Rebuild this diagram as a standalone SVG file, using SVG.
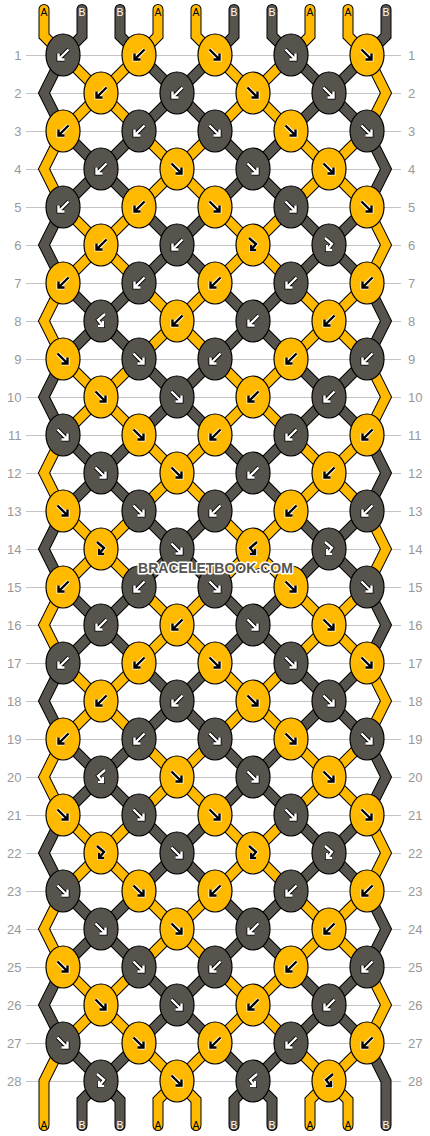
<svg xmlns="http://www.w3.org/2000/svg" width="430" height="1136" viewBox="0 0 430 1136">
<style>
text{font-family:"Liberation Sans",Arial,sans-serif}
.n{font-size:13px;fill:#999}
.nl{text-anchor:end}
.lb{font-size:10.5px;text-anchor:middle}
.o{fill:none;stroke:#000;stroke-width:11;stroke-linecap:round;stroke-linejoin:miter}
.cy{fill:none;stroke:#FFBA00;stroke-width:9;stroke-linecap:round;stroke-linejoin:miter}
.cd{fill:none;stroke:#57544E;stroke-width:9;stroke-linecap:round;stroke-linejoin:miter}
ellipse{stroke:#000;stroke-width:1.2}
.y ellipse{fill:#FFBA00}
.d ellipse{fill:#57544E}
.y use{color:#000;stroke:#fff}
.d use{color:#fff;stroke:#000}
</style>
<defs>
<path id="s1" d="M63 55l38 38M139 55l-38 38M215 55l38 38M291 55l-38 38M367 55l19 38l-19 38M101 93l-38 38M101 93l38 38M253 93l-38 38M253 93l38 38"/>
<path id="s2" d="M139 55l38 38M215 55l-38 38M291 55l38 38M367 55l-38 38M63 55l-19 38l19 38M177 93l-38 38M177 93l38 38M329 93l-38 38M329 93l38 38"/>
<g id="s12"><use href="#s1"/><use href="#s2"/></g>
<path id="ey" d="M139 1043l38 38M215 1043l-38 38M291 1043l38 38M367 1043l-38 38M63 1043L44 1081V1125.5M177 1081L158 1100V1125.5M177 1081L196 1100V1125.5M329 1081L310 1100V1125.5M329 1081L348 1100V1125.5M44 9.5V36L63 55M158 9.5V36L139 55M196 9.5V36L215 55M310 9.5V36L291 55M348 9.5V36L367 55"/>
<path id="ed" d="M63 1043l38 38M139 1043l-38 38M215 1043l38 38M291 1043l-38 38M367 1043L386 1081V1125.5M101 1081L82 1100V1125.5M101 1081L120 1100V1125.5M253 1081L234 1100V1125.5M253 1081L272 1100V1125.5M82 9.5V36L63 55M120 9.5V36L139 55M234 9.5V36L215 55M272 9.5V36L291 55M386 9.5V36L367 55"/>
<g id="b" fill="none"><path d="M5.5-5.5L-4.5 4.5M-4.5-1.5V4.5H1.5" stroke-width="4"/><path d="M5.5-5.5L-4.5 4.5M-4.5-1.5V4.5H1.5" stroke="currentColor" stroke-width="2.4"/></g>
<g id="f" fill="none"><path d="M-5.5-5.5L4.5 4.5M4.5-1.5V4.5H-1.5" stroke-width="4"/><path d="M-5.5-5.5L4.5 4.5M4.5-1.5V4.5H-1.5" stroke="currentColor" stroke-width="2.4"/></g>
<g id="fb" fill="none"><path d="M-4-7L3-1L-2 5M-2 0V5H3" stroke-width="4"/><path d="M-4-7L3-1L-2 5M-2 0V5H3" stroke="currentColor" stroke-width="2.4"/></g>
<g id="bf" fill="none"><path d="M4-7L-3-1L2 5M2 0V5H-3" stroke-width="4"/><path d="M4-7L-3-1L2 5M2 0V5H-3" stroke="currentColor" stroke-width="2.4"/></g>
</defs>
<rect width="430" height="1136" fill="#fff"/>
<g id="grid">
<path d="M26 55.5H401M26 93.5H401M26 131.5H401M26 169.5H401M26 207.5H401M26 245.5H401M26 283.5H401M26 321.5H401M26 359.5H401M26 397.5H401M26 435.5H401M26 473.5H401M26 511.5H401M26 549.5H401M26 587.5H401M26 625.5H401M26 663.5H401M26 701.5H401M26 739.5H401M26 777.5H401M26 815.5H401M26 853.5H401M26 891.5H401M26 929.5H401M26 967.5H401M26 1005.5H401M26 1043.5H401M26 1081.5H401" stroke="#c4c4c4" stroke-width="1" fill="none"/>
<g class="n nl">
<text x="21.5" y="59.5">1</text><text x="21.5" y="97.5">2</text><text x="21.5" y="135.5">3</text><text x="21.5" y="173.5">4</text><text x="21.5" y="211.5">5</text><text x="21.5" y="249.5">6</text><text x="21.5" y="287.5">7</text><text x="21.5" y="325.5">8</text><text x="21.5" y="363.5">9</text><text x="21.5" y="401.5">10</text><text x="21.5" y="439.5">11</text><text x="21.5" y="477.5">12</text><text x="21.5" y="515.5">13</text><text x="21.5" y="553.5">14</text><text x="21.5" y="591.5">15</text><text x="21.5" y="629.5">16</text><text x="21.5" y="667.5">17</text><text x="21.5" y="705.5">18</text><text x="21.5" y="743.5">19</text><text x="21.5" y="781.5">20</text><text x="21.5" y="819.5">21</text><text x="21.5" y="857.5">22</text><text x="21.5" y="895.5">23</text><text x="21.5" y="933.5">24</text><text x="21.5" y="971.5">25</text><text x="21.5" y="1009.5">26</text><text x="21.5" y="1047.5">27</text><text x="21.5" y="1085.5">28</text>
</g>
<g class="n">
<text x="408" y="59.5">1</text><text x="408" y="97.5">2</text><text x="408" y="135.5">3</text><text x="408" y="173.5">4</text><text x="408" y="211.5">5</text><text x="408" y="249.5">6</text><text x="408" y="287.5">7</text><text x="408" y="325.5">8</text><text x="408" y="363.5">9</text><text x="408" y="401.5">10</text><text x="408" y="439.5">11</text><text x="408" y="477.5">12</text><text x="408" y="515.5">13</text><text x="408" y="553.5">14</text><text x="408" y="591.5">15</text><text x="408" y="629.5">16</text><text x="408" y="667.5">17</text><text x="408" y="705.5">18</text><text x="408" y="743.5">19</text><text x="408" y="781.5">20</text><text x="408" y="819.5">21</text><text x="408" y="857.5">22</text><text x="408" y="895.5">23</text><text x="408" y="933.5">24</text><text x="408" y="971.5">25</text><text x="408" y="1009.5">26</text><text x="408" y="1047.5">27</text><text x="408" y="1085.5">28</text>
</g>
</g>
<g id="connectors">
<use href="#s12" class="o"/>
<use href="#s12" class="o" transform="translate(0 76)"/>
<use href="#s12" class="o" transform="translate(0 152)"/>
<use href="#s12" class="o" transform="translate(0 228)"/>
<use href="#s12" class="o" transform="translate(0 304)"/>
<use href="#s12" class="o" transform="translate(0 380)"/>
<use href="#s12" class="o" transform="translate(0 456)"/>
<use href="#s12" class="o" transform="translate(0 532)"/>
<use href="#s12" class="o" transform="translate(0 608)"/>
<use href="#s12" class="o" transform="translate(0 684)"/>
<use href="#s12" class="o" transform="translate(0 760)"/>
<use href="#s12" class="o" transform="translate(0 836)"/>
<use href="#s12" class="o" transform="translate(0 912)"/>
<use href="#ey" class="o"/>
<use href="#ed" class="o"/>
<use href="#s1" class="cy"/><use href="#s2" class="cd"/>
<use href="#s1" class="cd" transform="translate(0 76)"/><use href="#s2" class="cy" transform="translate(0 76)"/>
<use href="#s1" class="cy" transform="translate(0 152)"/><use href="#s2" class="cd" transform="translate(0 152)"/>
<use href="#s1" class="cd" transform="translate(0 228)"/><use href="#s2" class="cy" transform="translate(0 228)"/>
<use href="#s1" class="cy" transform="translate(0 304)"/><use href="#s2" class="cd" transform="translate(0 304)"/>
<use href="#s1" class="cd" transform="translate(0 380)"/><use href="#s2" class="cy" transform="translate(0 380)"/>
<use href="#s1" class="cy" transform="translate(0 456)"/><use href="#s2" class="cd" transform="translate(0 456)"/>
<use href="#s1" class="cd" transform="translate(0 532)"/><use href="#s2" class="cy" transform="translate(0 532)"/>
<use href="#s1" class="cy" transform="translate(0 608)"/><use href="#s2" class="cd" transform="translate(0 608)"/>
<use href="#s1" class="cd" transform="translate(0 684)"/><use href="#s2" class="cy" transform="translate(0 684)"/>
<use href="#s1" class="cy" transform="translate(0 760)"/><use href="#s2" class="cd" transform="translate(0 760)"/>
<use href="#s1" class="cd" transform="translate(0 836)"/><use href="#s2" class="cy" transform="translate(0 836)"/>
<use href="#s1" class="cy" transform="translate(0 912)"/><use href="#s2" class="cd" transform="translate(0 912)"/>
<use href="#ey" class="cy"/>
<use href="#ed" class="cd"/>
</g>
<g id="labels" class="lb">
<text x="44" y="16" fill="#000">A</text><text x="82" y="16" fill="#fff">B</text><text x="120" y="16" fill="#fff">B</text><text x="158" y="16" fill="#000">A</text><text x="196" y="16" fill="#000">A</text><text x="234" y="16" fill="#fff">B</text><text x="272" y="16" fill="#fff">B</text><text x="310" y="16" fill="#000">A</text><text x="348" y="16" fill="#000">A</text><text x="386" y="16" fill="#fff">B</text>
<text x="44" y="1129" fill="#000">A</text><text x="82" y="1129" fill="#fff">B</text><text x="120" y="1129" fill="#fff">B</text><text x="158" y="1129" fill="#000">A</text><text x="196" y="1129" fill="#000">A</text><text x="234" y="1129" fill="#fff">B</text><text x="272" y="1129" fill="#fff">B</text><text x="310" y="1129" fill="#000">A</text><text x="348" y="1129" fill="#000">A</text><text x="386" y="1129" fill="#fff">B</text>
</g>
<g id="knots">
<g id="k1-1" class="d" transform="translate(63 55)"><ellipse rx="17" ry="21"/><use href="#b"/></g>
<g id="k1-2" class="y" transform="translate(139 55)"><ellipse rx="17" ry="21"/><use href="#b"/></g>
<g id="k1-3" class="y" transform="translate(215 55)"><ellipse rx="17" ry="21"/><use href="#f"/></g>
<g id="k1-4" class="d" transform="translate(291 55)"><ellipse rx="17" ry="21"/><use href="#f"/></g>
<g id="k1-5" class="y" transform="translate(367 55)"><ellipse rx="17" ry="21"/><use href="#f"/></g>
<g id="k2-1" class="y" transform="translate(101 93)"><ellipse rx="17" ry="21"/><use href="#b"/></g>
<g id="k2-2" class="d" transform="translate(177 93)"><ellipse rx="17" ry="21"/><use href="#b"/></g>
<g id="k2-3" class="y" transform="translate(253 93)"><ellipse rx="17" ry="21"/><use href="#f"/></g>
<g id="k2-4" class="d" transform="translate(329 93)"><ellipse rx="17" ry="21"/><use href="#f"/></g>
<g id="k3-1" class="y" transform="translate(63 131)"><ellipse rx="17" ry="21"/><use href="#b"/></g>
<g id="k3-2" class="d" transform="translate(139 131)"><ellipse rx="17" ry="21"/><use href="#b"/></g>
<g id="k3-3" class="d" transform="translate(215 131)"><ellipse rx="17" ry="21"/><use href="#f"/></g>
<g id="k3-4" class="y" transform="translate(291 131)"><ellipse rx="17" ry="21"/><use href="#f"/></g>
<g id="k3-5" class="d" transform="translate(367 131)"><ellipse rx="17" ry="21"/><use href="#f"/></g>
<g id="k4-1" class="d" transform="translate(101 169)"><ellipse rx="17" ry="21"/><use href="#b"/></g>
<g id="k4-2" class="y" transform="translate(177 169)"><ellipse rx="17" ry="21"/><use href="#f"/></g>
<g id="k4-3" class="d" transform="translate(253 169)"><ellipse rx="17" ry="21"/><use href="#f"/></g>
<g id="k4-4" class="y" transform="translate(329 169)"><ellipse rx="17" ry="21"/><use href="#f"/></g>
<g id="k5-1" class="d" transform="translate(63 207)"><ellipse rx="17" ry="21"/><use href="#b"/></g>
<g id="k5-2" class="y" transform="translate(139 207)"><ellipse rx="17" ry="21"/><use href="#b"/></g>
<g id="k5-3" class="y" transform="translate(215 207)"><ellipse rx="17" ry="21"/><use href="#f"/></g>
<g id="k5-4" class="d" transform="translate(291 207)"><ellipse rx="17" ry="21"/><use href="#f"/></g>
<g id="k5-5" class="y" transform="translate(367 207)"><ellipse rx="17" ry="21"/><use href="#f"/></g>
<g id="k6-1" class="y" transform="translate(101 245)"><ellipse rx="17" ry="21"/><use href="#b"/></g>
<g id="k6-2" class="d" transform="translate(177 245)"><ellipse rx="17" ry="21"/><use href="#b"/></g>
<g id="k6-3" class="y" transform="translate(253 245)"><ellipse rx="17" ry="21"/><use href="#fb"/></g>
<g id="k6-4" class="d" transform="translate(329 245)"><ellipse rx="17" ry="21"/><use href="#fb"/></g>
<g id="k7-1" class="y" transform="translate(63 283)"><ellipse rx="17" ry="21"/><use href="#b"/></g>
<g id="k7-2" class="d" transform="translate(139 283)"><ellipse rx="17" ry="21"/><use href="#b"/></g>
<g id="k7-3" class="y" transform="translate(215 283)"><ellipse rx="17" ry="21"/><use href="#b"/></g>
<g id="k7-4" class="d" transform="translate(291 283)"><ellipse rx="17" ry="21"/><use href="#b"/></g>
<g id="k7-5" class="y" transform="translate(367 283)"><ellipse rx="17" ry="21"/><use href="#b"/></g>
<g id="k8-1" class="d" transform="translate(101 321)"><ellipse rx="17" ry="21"/><use href="#bf"/></g>
<g id="k8-2" class="y" transform="translate(177 321)"><ellipse rx="17" ry="21"/><use href="#b"/></g>
<g id="k8-3" class="d" transform="translate(253 321)"><ellipse rx="17" ry="21"/><use href="#b"/></g>
<g id="k8-4" class="y" transform="translate(329 321)"><ellipse rx="17" ry="21"/><use href="#b"/></g>
<g id="k9-1" class="y" transform="translate(63 359)"><ellipse rx="17" ry="21"/><use href="#f"/></g>
<g id="k9-2" class="d" transform="translate(139 359)"><ellipse rx="17" ry="21"/><use href="#f"/></g>
<g id="k9-3" class="d" transform="translate(215 359)"><ellipse rx="17" ry="21"/><use href="#b"/></g>
<g id="k9-4" class="y" transform="translate(291 359)"><ellipse rx="17" ry="21"/><use href="#b"/></g>
<g id="k9-5" class="d" transform="translate(367 359)"><ellipse rx="17" ry="21"/><use href="#b"/></g>
<g id="k10-1" class="y" transform="translate(101 397)"><ellipse rx="17" ry="21"/><use href="#f"/></g>
<g id="k10-2" class="d" transform="translate(177 397)"><ellipse rx="17" ry="21"/><use href="#f"/></g>
<g id="k10-3" class="y" transform="translate(253 397)"><ellipse rx="17" ry="21"/><use href="#b"/></g>
<g id="k10-4" class="d" transform="translate(329 397)"><ellipse rx="17" ry="21"/><use href="#b"/></g>
<g id="k11-1" class="d" transform="translate(63 435)"><ellipse rx="17" ry="21"/><use href="#f"/></g>
<g id="k11-2" class="y" transform="translate(139 435)"><ellipse rx="17" ry="21"/><use href="#f"/></g>
<g id="k11-3" class="y" transform="translate(215 435)"><ellipse rx="17" ry="21"/><use href="#b"/></g>
<g id="k11-4" class="d" transform="translate(291 435)"><ellipse rx="17" ry="21"/><use href="#b"/></g>
<g id="k11-5" class="y" transform="translate(367 435)"><ellipse rx="17" ry="21"/><use href="#b"/></g>
<g id="k12-1" class="d" transform="translate(101 473)"><ellipse rx="17" ry="21"/><use href="#f"/></g>
<g id="k12-2" class="y" transform="translate(177 473)"><ellipse rx="17" ry="21"/><use href="#f"/></g>
<g id="k12-3" class="d" transform="translate(253 473)"><ellipse rx="17" ry="21"/><use href="#b"/></g>
<g id="k12-4" class="y" transform="translate(329 473)"><ellipse rx="17" ry="21"/><use href="#b"/></g>
<g id="k13-1" class="y" transform="translate(63 511)"><ellipse rx="17" ry="21"/><use href="#f"/></g>
<g id="k13-2" class="d" transform="translate(139 511)"><ellipse rx="17" ry="21"/><use href="#f"/></g>
<g id="k13-3" class="d" transform="translate(215 511)"><ellipse rx="17" ry="21"/><use href="#b"/></g>
<g id="k13-4" class="y" transform="translate(291 511)"><ellipse rx="17" ry="21"/><use href="#b"/></g>
<g id="k13-5" class="d" transform="translate(367 511)"><ellipse rx="17" ry="21"/><use href="#b"/></g>
<g id="k14-1" class="y" transform="translate(101 549)"><ellipse rx="17" ry="21"/><use href="#fb"/></g>
<g id="k14-2" class="d" transform="translate(177 549)"><ellipse rx="17" ry="21"/><use href="#f"/></g>
<g id="k14-3" class="y" transform="translate(253 549)"><ellipse rx="17" ry="21"/><use href="#bf"/></g>
<g id="k14-4" class="d" transform="translate(329 549)"><ellipse rx="17" ry="21"/><use href="#fb"/></g>
<g id="k15-1" class="y" transform="translate(63 587)"><ellipse rx="17" ry="21"/><use href="#b"/></g>
<g id="k15-2" class="d" transform="translate(139 587)"><ellipse rx="17" ry="21"/><use href="#b"/></g>
<g id="k15-3" class="d" transform="translate(215 587)"><ellipse rx="17" ry="21"/><use href="#f"/></g>
<g id="k15-4" class="y" transform="translate(291 587)"><ellipse rx="17" ry="21"/><use href="#f"/></g>
<g id="k15-5" class="d" transform="translate(367 587)"><ellipse rx="17" ry="21"/><use href="#f"/></g>
<g id="k16-1" class="d" transform="translate(101 625)"><ellipse rx="17" ry="21"/><use href="#b"/></g>
<g id="k16-2" class="y" transform="translate(177 625)"><ellipse rx="17" ry="21"/><use href="#b"/></g>
<g id="k16-3" class="d" transform="translate(253 625)"><ellipse rx="17" ry="21"/><use href="#f"/></g>
<g id="k16-4" class="y" transform="translate(329 625)"><ellipse rx="17" ry="21"/><use href="#f"/></g>
<g id="k17-1" class="d" transform="translate(63 663)"><ellipse rx="17" ry="21"/><use href="#b"/></g>
<g id="k17-2" class="y" transform="translate(139 663)"><ellipse rx="17" ry="21"/><use href="#b"/></g>
<g id="k17-3" class="y" transform="translate(215 663)"><ellipse rx="17" ry="21"/><use href="#f"/></g>
<g id="k17-4" class="d" transform="translate(291 663)"><ellipse rx="17" ry="21"/><use href="#f"/></g>
<g id="k17-5" class="y" transform="translate(367 663)"><ellipse rx="17" ry="21"/><use href="#f"/></g>
<g id="k18-1" class="y" transform="translate(101 701)"><ellipse rx="17" ry="21"/><use href="#b"/></g>
<g id="k18-2" class="d" transform="translate(177 701)"><ellipse rx="17" ry="21"/><use href="#b"/></g>
<g id="k18-3" class="y" transform="translate(253 701)"><ellipse rx="17" ry="21"/><use href="#f"/></g>
<g id="k18-4" class="d" transform="translate(329 701)"><ellipse rx="17" ry="21"/><use href="#f"/></g>
<g id="k19-1" class="y" transform="translate(63 739)"><ellipse rx="17" ry="21"/><use href="#b"/></g>
<g id="k19-2" class="d" transform="translate(139 739)"><ellipse rx="17" ry="21"/><use href="#b"/></g>
<g id="k19-3" class="d" transform="translate(215 739)"><ellipse rx="17" ry="21"/><use href="#f"/></g>
<g id="k19-4" class="y" transform="translate(291 739)"><ellipse rx="17" ry="21"/><use href="#f"/></g>
<g id="k19-5" class="d" transform="translate(367 739)"><ellipse rx="17" ry="21"/><use href="#f"/></g>
<g id="k20-1" class="d" transform="translate(101 777)"><ellipse rx="17" ry="21"/><use href="#bf"/></g>
<g id="k20-2" class="y" transform="translate(177 777)"><ellipse rx="17" ry="21"/><use href="#f"/></g>
<g id="k20-3" class="d" transform="translate(253 777)"><ellipse rx="17" ry="21"/><use href="#f"/></g>
<g id="k20-4" class="y" transform="translate(329 777)"><ellipse rx="17" ry="21"/><use href="#f"/></g>
<g id="k21-1" class="y" transform="translate(63 815)"><ellipse rx="17" ry="21"/><use href="#f"/></g>
<g id="k21-2" class="d" transform="translate(139 815)"><ellipse rx="17" ry="21"/><use href="#f"/></g>
<g id="k21-3" class="y" transform="translate(215 815)"><ellipse rx="17" ry="21"/><use href="#f"/></g>
<g id="k21-4" class="d" transform="translate(291 815)"><ellipse rx="17" ry="21"/><use href="#f"/></g>
<g id="k21-5" class="y" transform="translate(367 815)"><ellipse rx="17" ry="21"/><use href="#f"/></g>
<g id="k22-1" class="y" transform="translate(101 853)"><ellipse rx="17" ry="21"/><use href="#fb"/></g>
<g id="k22-2" class="d" transform="translate(177 853)"><ellipse rx="17" ry="21"/><use href="#f"/></g>
<g id="k22-3" class="y" transform="translate(253 853)"><ellipse rx="17" ry="21"/><use href="#fb"/></g>
<g id="k22-4" class="d" transform="translate(329 853)"><ellipse rx="17" ry="21"/><use href="#fb"/></g>
<g id="k23-1" class="d" transform="translate(63 891)"><ellipse rx="17" ry="21"/><use href="#f"/></g>
<g id="k23-2" class="y" transform="translate(139 891)"><ellipse rx="17" ry="21"/><use href="#f"/></g>
<g id="k23-3" class="y" transform="translate(215 891)"><ellipse rx="17" ry="21"/><use href="#b"/></g>
<g id="k23-4" class="d" transform="translate(291 891)"><ellipse rx="17" ry="21"/><use href="#b"/></g>
<g id="k23-5" class="y" transform="translate(367 891)"><ellipse rx="17" ry="21"/><use href="#b"/></g>
<g id="k24-1" class="d" transform="translate(101 929)"><ellipse rx="17" ry="21"/><use href="#f"/></g>
<g id="k24-2" class="y" transform="translate(177 929)"><ellipse rx="17" ry="21"/><use href="#f"/></g>
<g id="k24-3" class="d" transform="translate(253 929)"><ellipse rx="17" ry="21"/><use href="#b"/></g>
<g id="k24-4" class="y" transform="translate(329 929)"><ellipse rx="17" ry="21"/><use href="#b"/></g>
<g id="k25-1" class="y" transform="translate(63 967)"><ellipse rx="17" ry="21"/><use href="#f"/></g>
<g id="k25-2" class="d" transform="translate(139 967)"><ellipse rx="17" ry="21"/><use href="#f"/></g>
<g id="k25-3" class="d" transform="translate(215 967)"><ellipse rx="17" ry="21"/><use href="#b"/></g>
<g id="k25-4" class="y" transform="translate(291 967)"><ellipse rx="17" ry="21"/><use href="#b"/></g>
<g id="k25-5" class="d" transform="translate(367 967)"><ellipse rx="17" ry="21"/><use href="#b"/></g>
<g id="k26-1" class="y" transform="translate(101 1005)"><ellipse rx="17" ry="21"/><use href="#f"/></g>
<g id="k26-2" class="d" transform="translate(177 1005)"><ellipse rx="17" ry="21"/><use href="#f"/></g>
<g id="k26-3" class="y" transform="translate(253 1005)"><ellipse rx="17" ry="21"/><use href="#b"/></g>
<g id="k26-4" class="d" transform="translate(329 1005)"><ellipse rx="17" ry="21"/><use href="#b"/></g>
<g id="k27-1" class="d" transform="translate(63 1043)"><ellipse rx="17" ry="21"/><use href="#f"/></g>
<g id="k27-2" class="y" transform="translate(139 1043)"><ellipse rx="17" ry="21"/><use href="#f"/></g>
<g id="k27-3" class="y" transform="translate(215 1043)"><ellipse rx="17" ry="21"/><use href="#b"/></g>
<g id="k27-4" class="d" transform="translate(291 1043)"><ellipse rx="17" ry="21"/><use href="#b"/></g>
<g id="k27-5" class="y" transform="translate(367 1043)"><ellipse rx="17" ry="21"/><use href="#b"/></g>
<g id="k28-1" class="d" transform="translate(101 1081)"><ellipse rx="17" ry="21"/><use href="#fb"/></g>
<g id="k28-2" class="y" transform="translate(177 1081)"><ellipse rx="17" ry="21"/><use href="#f"/></g>
<g id="k28-3" class="d" transform="translate(253 1081)"><ellipse rx="17" ry="21"/><use href="#bf"/></g>
<g id="k28-4" class="y" transform="translate(329 1081)"><ellipse rx="17" ry="21"/><use href="#bf"/></g>
</g>
<text id="watermark" x="215.5" y="573" text-anchor="middle" font-size="14" font-weight="bold" fill="#555" stroke="#fff" stroke-width="3" stroke-linejoin="round" paint-order="stroke">BRACELETBOOK.COM</text>
</svg>
